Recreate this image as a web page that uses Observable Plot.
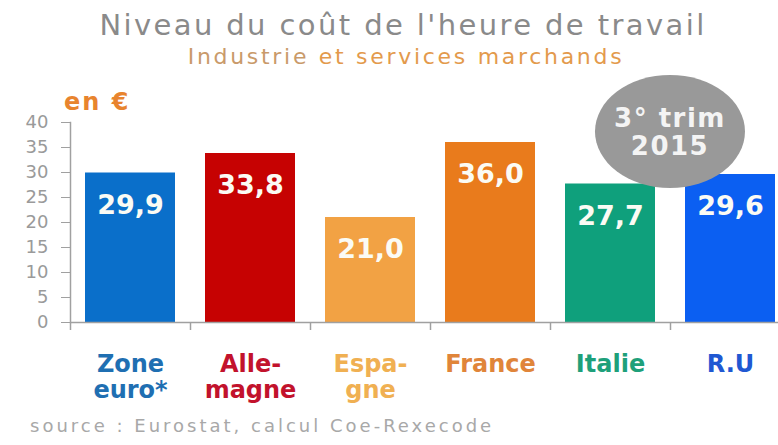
<!DOCTYPE html>
<html>
<head>
<meta charset="utf-8">
<script src="https://cdn.jsdelivr.net/npm/d3@7"></script>
<script src="https://cdn.jsdelivr.net/npm/@observablehq/plot@0.6"></script>
<style>
  html, body { margin: 0; padding: 0; background: #fff; }
  #wrap { position: relative; width: 778px; height: 445px; overflow: hidden; font-family: "DejaVu Sans", sans-serif; }
  #wrap svg { position: absolute; left: 0; top: 0; }
  .title { position: absolute; left: 0; width: 806px; text-align: center; top: 8px; font-size: 29px; color: #8a8a8a; letter-spacing: 2.4px; white-space: nowrap; }
  .subtitle { position: absolute; left: 0; width: 812px; text-align: center; top: 44px; font-size: 22px; color: #e39a4c; letter-spacing: 2.7px; white-space: nowrap; }
  .subtitle .ind { color: #c99a6a; }
  .unit { position: absolute; left: 64px; top: 88px; font-size: 24px; font-weight: bold; color: #e8842e; letter-spacing: 2px; }
  .badge { position: absolute; left: 595px; top: 75px; width: 150px; height: 113px; border-radius: 50%; background: #999999; color: #f4f4f4; font-size: 26px; font-weight: bold; letter-spacing: 1.5px; text-align: center; display: flex; flex-direction: column; justify-content: center; line-height: 28px; z-index: 2; }
  .source { position: absolute; left: 30px; top: 415px; font-size: 18px; color: #a8a8a8; letter-spacing: 3px; white-space: nowrap; }
</style>
</head>
<body>
<div id="wrap">
  <div class="title">Niveau du coût de l'heure de travail</div>
  <div class="subtitle"><span class="ind">Industrie</span> et services marchands</div>
  <div class="unit">en €</div>
  <div class="badge"><div>3° trim</div><div>2015</div></div>
  <div class="source">source : Eurostat, calcul Coe-Rexecode</div>
</div>
<script>
const categories = ["Zone euro*", "Allemagne", "Espagne", "France", "Italie", "R.U"];
const tickLabels = ["Zone\neuro*", "Alle-\nmagne", "Espa-\ngne", "France", "Italie", "R.U"];
const values = [29.9, 33.8, 21.0, 36.0, 27.7, 29.6];
const barColors = ["#0a6fca", "#c60202", "#f2a244", "#e97b1c", "#0fa07c", "#0b5ff2"];
const labelColors = ["#1f6fb2", "#c2122c", "#f0b052", "#e0853a", "#1ea07a", "#2058d2"];
const yTicks = [0, 5, 10, 15, 20, 25, 30, 35, 40];

const data = categories.map((c, i) => ({
  cat: c, label: tickLabels[i], value: values[i], bar: barColors[i], lab: labelColors[i]
}));
const fmt = v => v.toFixed(1).replace(".", ",");

const chart = Plot.plot({
  width: 778,
  height: 445,
  marginTop: 122,
  marginBottom: 123,
  marginLeft: 70,
  marginRight: -12,
  style: { fontFamily: "DejaVu Sans, sans-serif", background: "transparent", overflow: "visible" },
  x: { domain: categories, paddingInner: 0.25, paddingOuter: 0.125, axis: null },
  y: { domain: [0, 40], axis: null },
  marks: [
    Plot.barY(data, { x: "cat", y: "value", fill: d => d.bar }),
    Plot.ruleY([0], { stroke: "#a0a0a0", strokeWidth: 1.5 }),
    Plot.frame({ anchor: "left", stroke: "#a0a0a0", strokeWidth: 1.5 }),
    Plot.axisY({ ticks: yTicks, tickSize: 9, tickPadding: 13, fontSize: 18, color: "#9a9a9a", stroke: "#a0a0a0", label: null, letterSpacing: 1 }),
    Plot.ruleX(data, { x: "cat", y1: 0, y2: -1.6, dx: -60, stroke: "#a0a0a0", strokeWidth: 1.5 }),
    Plot.text(data, { x: "cat", y: "value", text: d => fmt(d.value), dy: 32, fill: "#fbfbf4", fontSize: 27, fontWeight: "bold", letterSpacing: 2 }),
    Plot.text(data, { x: "cat", y: 0, text: "label", fill: d => d.lab, fontSize: 24, fontWeight: "bold", lineAnchor: "top", lineHeight: 1.08, dy: 31, letterSpacing: 2 })
  ]
});
document.getElementById("wrap").prepend(chart);
</script>
</body>
</html>
